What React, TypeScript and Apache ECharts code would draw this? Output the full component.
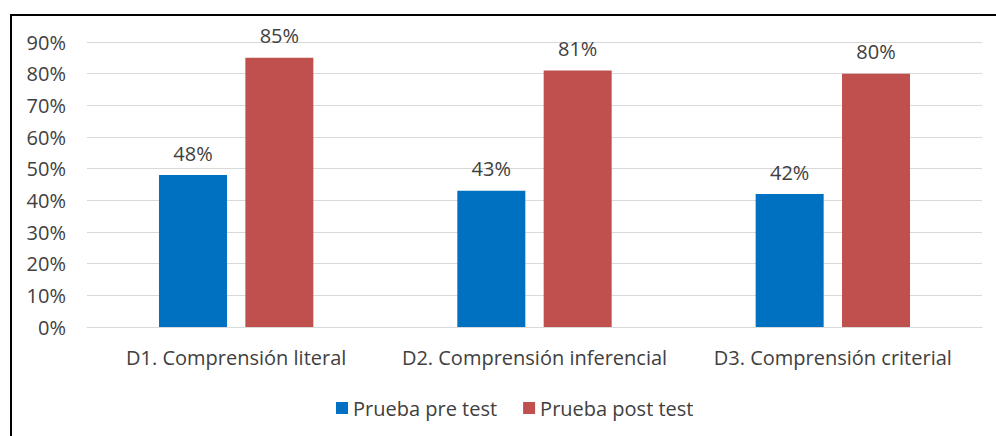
import React, { useEffect, useRef } from "react";
import * as echarts from "echarts";

const categories = ["D1. Comprensión literal", "D2. Comprensión inferencial", "D3. Comprensión criterial"];
const preTest = [48, 43, 42];
const postTest = [85, 81, 80];
const seriesNames = ["Prueba pre test", "Prueba post test"];

const FONT = "'Open Sans', Lato, sans-serif";

export default function App() {
  const ref = useRef<HTMLDivElement>(null);
  useEffect(() => {
    document.body.style.margin = "0";
    const chart = echarts.init(ref.current!, null, { renderer: "svg" });
    const label = {
      show: true,
      position: "top",
      distance: 12,
      formatter: (p: any) => `${p.value}%`,
      fontFamily: FONT,
      fontSize: 20,
      color: "#404040",
    };
    chart.setOption({
      animation: false,
      backgroundColor: "#ffffff",
      textStyle: { fontFamily: FONT },
      grid: { left: 87, right: 14, top: 42, bottom: 109, containLabel: false },
      legend: {
        data: seriesNames,
        top: 393,
        left: 331,
        itemWidth: 12,
        itemHeight: 12,
        itemGap: 26,
        icon: "rect",
        textStyle: { fontFamily: FONT, fontSize: 20, color: "#404040" },
      },
      xAxis: {
        type: "category",
        data: categories,
        axisLine: { lineStyle: { color: "#d9d9d9", width: 1 } },
        axisTick: { show: false },
        axisLabel: {
          interval: 0,
          hideOverlap: false,
          fontFamily: FONT,
          fontSize: 20,
          color: "#404040",
          margin: 20,
        },
      },
      yAxis: {
        type: "value",
        min: 0,
        max: 90,
        interval: 10,
        axisLine: { show: false },
        axisTick: { show: false },
        splitLine: { lineStyle: { color: "#d9d9d9", width: 1 } },
        axisLabel: {
          formatter: (v: number) => `${v}%`,
          fontFamily: FONT,
          fontSize: 20,
          color: "#404040",
          margin: 21,
        },
      },
      series: [
        {
          name: seriesNames[0],
          type: "bar",
          data: preTest,
          barWidth: 68,
          barGap: "27%",
          itemStyle: { color: "#0070C0" },
          label,
        },
        {
          name: seriesNames[1],
          type: "bar",
          data: postTest,
          barWidth: 68,
          itemStyle: { color: "#C0504D" },
          label,
        },
      ],
      graphic: [
        { type: "line", shape: { x1: 10, y1: 15, x2: 996, y2: 15 }, style: { stroke: "#000", lineWidth: 2 } },
        { type: "line", shape: { x1: 11, y1: 15, x2: 11, y2: 436 }, style: { stroke: "#000", lineWidth: 2 } },
      ],
    });
    return () => chart.dispose();
  }, []);
  return <div ref={ref} style={{ width: 996, height: 436 }} />;
}
